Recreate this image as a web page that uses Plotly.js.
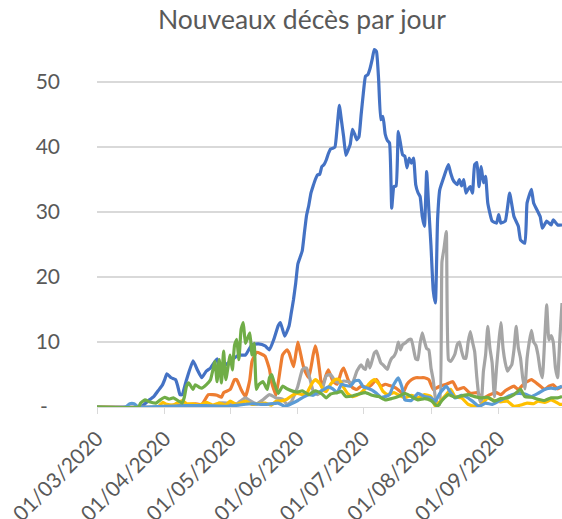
<!DOCTYPE html>
<html>
<head>
<meta charset="utf-8">
<script src="https://cdn.plot.ly/plotly-3.0.1.min.js"></script>
<style>html,body{margin:0;padding:0;background:#fff;}#chart{width:562px;height:519px;}</style>
</head>
<body>
<div id="chart"></div>
<script>
// Days counted from 01/03/2020
const tickDates = ['2020-03-01','2020-04-01','2020-05-01','2020-06-01','2020-07-01','2020-08-01','2020-09-01'];
const tickLabels = ['01/03/2020','01/04/2020','01/05/2020','01/06/2020','01/07/2020','01/08/2020','01/09/2020'];
const yTickVals = [0,10,20,30,40,50];
const yTickLabels = ['-\u2007','10','20','30','40','50'];

const blueDays = [0,20,22,24,26,28,30,31,32,34,36,37,38,39,41,44,46,48,50,52,55,56,59,62,65,68,71,74,77,79,81,83,84,86,88,89,90,91,92,93,94,95,96,97,98,99,100,101,102,103,104,105,106,107,108,109,110,111,112,113,114,115,116,117,118,119,120,121,122,123,124,125,126,127,128,129,130,131,132,133,134,135,136,137,138,139,140,141,142,143,144,145,146,147,148,149,150,151,152,153,154,155,156,157,158,159,160,161,162,163,164,165,166,167,168,169,170,171,172,173,174,175,176,177,178,179,181,183,184,185,187,189,191,193,194,196,197,199,200,203,204,206,208,209,211,213];
const blueVals = [0,0,0.5,1.1,1.6,2.5,3.4,4.2,5.1,4.5,4.2,3.2,1.9,1.9,4.2,7.1,5.7,4.5,5.5,6,7.4,6.2,6.5,7.3,8,8,9.6,9.7,9.4,8.8,10.4,12.5,13,10.9,12.5,14.5,16.5,19,22,23,24,26.8,29.5,31,32.9,34,35,35.7,35.8,37,37.3,38,39,39.7,39.8,40,43,46.4,44,41.5,38.7,39.5,40.4,42.7,42,41.1,41.6,45,48.3,50.9,51.1,52,53.4,55,54.7,50.4,44.2,44.7,42,41,40.6,30.6,33.9,34,42.4,40.6,38.8,38.6,36.8,38.3,37.5,38.3,34.2,33,32.4,29.3,27.8,36.2,30.4,24.7,18,16,28.8,33.4,34.5,35.5,36.5,37.3,36,35,34.5,34.2,35,34,35,32.9,33.5,33.9,32.9,37.3,37.6,33.9,37,34.5,35.5,31.4,28.6,28.3,29.6,28.3,28.6,32.9,29.3,27.8,25.7,25.2,31.4,33.5,31.4,29.3,27.5,28.6,28,28.8,28,28];

const orangeDays = [0,30,35,40,45,48,51,53,55,57,58,61,63,64,66,68,70,71,73,75,77,79,80,81,82,84,85,87,88,90,91,92,93,94,95,97,99,100,101,102,103,105,106,108,110,112,113,115,117,119,121,124,126,128,130,132,134,137,140,142,144,146,148,150,152,154,157,160,163,165,168,171,174,177,180,183,185,187,189,191,193,196,199,202,205,207,209,211,213];
const orangeVals = [0,0,0.3,0.3,0.5,0.4,1.9,1.9,1.8,1.5,2.2,2.7,4.2,4.2,2.7,1.6,4.2,7,8.4,8.2,7.8,5.8,3.8,2.7,1.8,6,8,8.8,8.3,6.2,8,10,8.6,7,5.7,4.5,8,9.4,8,5.5,3,5,5.7,4,3.5,5.5,6,4.2,3,2.7,3.2,3,3.5,4.2,3.2,3.5,3.3,2.9,2.1,3.5,4.2,4.5,4.5,4.5,4.2,2.7,3.2,3.5,3.9,2.7,3,2.1,2.2,1.4,1.9,2.2,1.9,2.5,2.9,3.2,2.7,3.7,4.2,3.5,2.7,3.2,3.4,2.8,3.2];

const grayDays = [0,50,55,56,60,64,68,70,73,76,79,82,85,87,89,92,94,95,96,97,98,99,101,103,105,107,109,111,113,115,117,119,121,122,123,124,125,127,128,130,131,133,134,135,136,137,138,139,140,141,142,143,144,146,147,148,149,150,151,152,153,154,155,156,157,158,159,160,161,162,163,164,165,166,167,168,169,170,171,172,173,174,175,176,177,178,179,180,181,182,183,184,185,186,187,188,189,190,191,192,193,194,195,196,197,198,199,200,201,202,203,204,205,206,207,208,209,210,211,212,213];
const grayVals = [0,0,0.4,0.6,0.6,0.5,1.4,1,0.5,1.1,1.9,1.4,1.2,0.4,0.8,3.2,5.7,6,6,5,3.7,2.5,1.9,2.5,4.8,5,4,3.7,4,3.9,3.7,5.5,6.5,6,5.8,7.3,6,8.3,8.6,6.8,6.5,5.8,6.8,7.5,7.8,8.5,10,8.8,9.6,9.8,10.1,10.4,10.4,7.4,7.3,9.8,11.4,10.1,9,8.8,6,4.2,1.4,0.6,0.4,22.3,24.5,27,7.3,7,7.5,8.2,9.6,10,8.6,7.5,7.5,10,11.6,10,8.5,4.5,1.5,0.6,5.5,8,12.4,9,6.8,1.6,6,9.8,13,9,6.8,5.5,6,6.5,8.8,12.4,9.1,7.5,4.5,2.8,7.5,10,11.8,10,9.5,8,5.7,4.5,10,15.7,10.3,11,10,6,4.5,10.5,16];

const yellowDays = [0,28,30,32,35,39,41,44,47,50,53,56,59,61,64,68,71,74,77,80,82,84,87,90,92,94,96,97,99,100,102,104,105,107,109,110,111,113,115,117,119,121,123,125,127,129,131,133,136,138,141,144,147,150,153,155,157,160,162,164,167,170,173,176,179,182,185,188,191,194,197,200,202,205,208,210,212,213];
const yellowVals = [0,0,0.7,0.4,0.3,1,0.5,0.5,0.3,0.7,0.3,0.6,0.3,0.9,0.4,0.9,0.4,0.5,0.6,0.3,0.9,0.9,1.2,1.9,2.1,1.9,2,2.7,3.9,4.2,3.6,2.5,2.4,3.5,4.2,4.3,4.2,3,2,1.6,1.8,2.2,2.9,3.7,4.2,3.6,2.4,1.9,2.2,1.9,1.4,1.8,1.4,1.9,1.6,0.1,0.8,1.9,2.7,1.6,1.4,0.4,0.1,0.3,1.4,1,0.8,0.9,0.1,0.3,0.6,0.5,0.9,0.7,1.1,0.8,0.4,0.4];

const lightBlueDays = [0,13,15,17,19,30,40,50,59,65,71,77,83,86,89,92,95,97,99,101,104,106,108,110,112,114,116,118,120,122,124,126,128,130,132,134,136,138,140,141,144,147,150,153,155,157,160,162,164,167,169,172,175,178,181,184,187,190,193,196,199,202,205,208,210,213];
const lightBlueVals = [0,0,0.5,0.5,0,0.1,0.2,0.2,0.1,0.3,0.5,0.4,0.6,0.1,0.5,1,1.6,1.9,1.8,2.2,2.7,3.1,2.8,2.2,3.5,3.3,3.2,4,4.1,3.1,2.9,2.6,2.1,1.5,1.6,1.9,3.5,4.5,2.7,1.1,1,2.1,1.6,1.4,0.9,2.1,3.2,2.2,1.4,1.8,1.6,0.9,0.1,0.6,0.4,0.9,1.4,1.9,2.1,2,1.6,2.1,2.7,2.9,2.8,3.2];

const greenDays = [0,19,20,22,24,27,29,31,33,35,37,39,40,41,42,44,45,47,48,50,52,54,55,56,57,58,59,61,62,63,64,65,66,67,68,70,71,72,73,74,76,78,79,80,81,83,85,87,90,92,94,97,100,103,105,107,110,112,114,117,120,123,126,129,132,135,138,141,144,147,150,153,156,158,161,164,167,170,173,176,179,182,185,188,191,194,196,199,202,205,208,211,213];
const greenVals = [0,0,0.6,1.1,0.8,0.6,1.1,1.5,1.2,1.4,1,0.6,1.5,3.2,3.7,2.7,3.4,3,2.9,3.4,4.2,7,3.9,7.3,3.7,8.6,4.2,8,5.7,9.5,10.4,7.3,11.9,13,9.8,11.4,8,9.8,2.7,3.4,3.9,2.7,4.5,5,3.9,2.1,3.2,2.8,2.4,2.3,2.5,1.9,2.5,2,1.4,2,2.2,2.4,1.6,1.7,2,2.2,1.8,1.6,1.1,1.3,1.6,2.1,1.6,1.1,1.3,1,0.1,1,1.9,1.5,1.7,1.9,1.6,1.4,1.5,0.9,1.3,1.4,1.9,2.7,1.6,1.5,1.2,1,1.4,1.4,1.6];

function toDate(d){
  const t = new Date(Date.UTC(2020, 2, 1 + d));
  return t.toISOString().slice(0,10);
}
const series = [
  {name:'Série 1', days: blueDays, vals: blueVals, color:'#4472C4'},
  {name:'Série 2', days: orangeDays, vals: orangeVals, color:'#ED7D31'},
  {name:'Série 3', days: grayDays, vals: grayVals, color:'#A5A5A5'},
  {name:'Série 4', days: yellowDays, vals: yellowVals, color:'#FFC000'},
  {name:'Série 5', days: lightBlueDays, vals: lightBlueVals, color:'#5B9BD5'},
  {name:'Série 6', days: greenDays, vals: greenVals, color:'#70AD47'}
];
const traces = series.map(s => ({
  type:'scatter', mode:'lines', name:s.name,
  x: s.days.map(toDate), y: s.vals,
  line:{color:s.color, width:3.2, shape:'spline', smoothing:0.4},
  cliponaxis:false, hoverinfo:'skip'
}));

const FONT = 'Lato, "Open Sans", sans-serif';
const layout = {
  width:562, height:519,
  margin:{l:97, r:0, t:43, b:112},
  paper_bgcolor:'#fff', plot_bgcolor:'#fff',
  showlegend:false,
  title:{text:'Nouveaux décès par jour', font:{family:FONT, size:26.5, color:'#595959'},
         xref:'container', x:302/562, xanchor:'center', yref:'container', y:1-10/519, yanchor:'top'},
  xaxis:{type:'date', range:['2020-03-01','2020-09-30'], tickvals:tickDates, ticktext:tickLabels,
         tickangle:-45, tickfont:{family:FONT, size:21, color:'#595959'},
         ticks:'outside', ticklen:6, tickcolor:'#D9D9D9', tickwidth:1,
         showline:true, linecolor:'#D9D9D9', linewidth:1, showgrid:false, zeroline:false,
         ticklabelstandoff:4},
  yaxis:{range:[0,56], tickvals:yTickVals, ticktext:yTickLabels,
         tickfont:{family:FONT, size:21, color:'#595959'},
         showgrid:true, gridcolor:'#D9D9D9', gridwidth:1.3, zeroline:false, showline:false,
         ticks:'', ticklabelstandoff:36}
};
Plotly.newPlot('chart', traces, layout, {staticPlot:true, displayModeBar:false});
</script>
</body>
</html>
